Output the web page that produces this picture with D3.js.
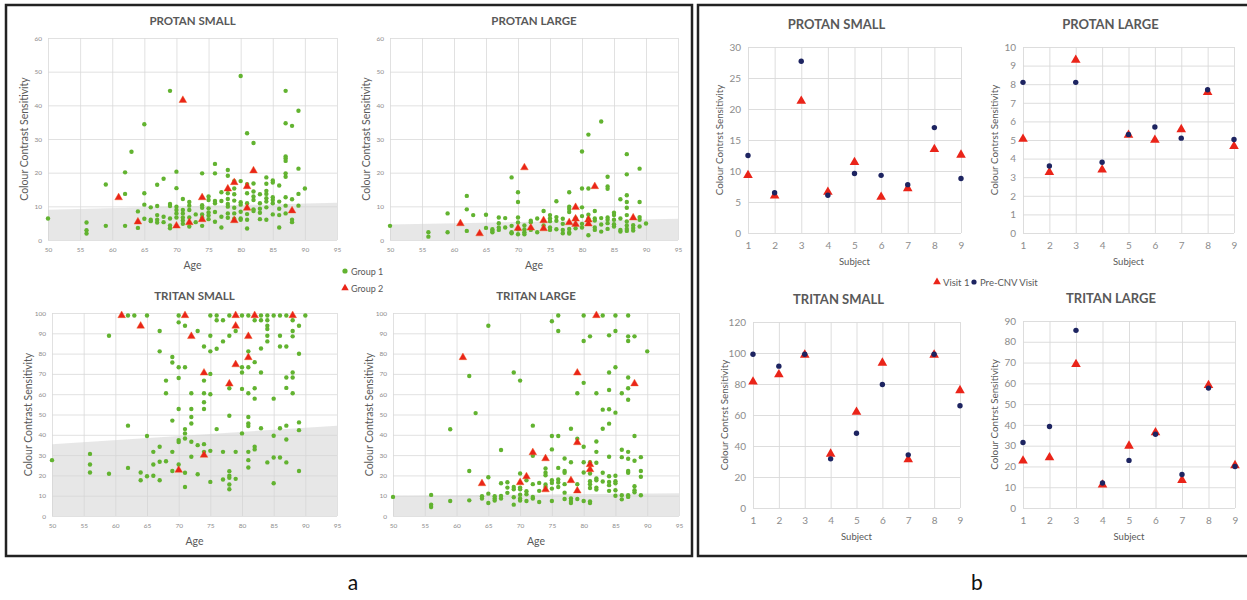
<!DOCTYPE html>
<html>
<head>
<meta charset="utf-8">
<script src="https://cdnjs.cloudflare.com/ajax/libs/d3/7.8.5/d3.min.js"></script>
<style>
body { margin:0; background:#fff; }
text { font-family: Lato, "Open Sans", sans-serif; }
</style>
</head>
<body>
<div class="container"></div>
<script>
////////////////////////////////////////////////////////////////
// DATA - PANEL A (age vs colour contrast sensitivity)
////////////////////////////////////////////////////////////////
var ageTicks = [50,55,60,65,70,75,80,85,90,95];
var protanTicks = [0,10,20,30,40,50,60];
var tritanTicks = [0,10,20,30,40,50,60,70,80,90,100];
var groupNames = ["Group 1","Group 2"];

// normal limit band [value at age 50, value at age 95]
var psBand = [9.0, 11.1];
var plBand = [4.6, 6.3];
var tsBand = [35.4, 44.5];
var tlBand = [10.0, 11.2];

var psG1 = [[50,6.4],[56,5.2],[56,2.9],[56,1.9],[59,16.5],[59,4.2],[62,20.1],[62,13.7],[62,4.2],[63,26.2],[64,8.5],[64,3.6],[65,34.4],[65,13.9],[65,10.5],[65,6.3],[66,9.7],[66,6.0],[66,5.6],[67,16.4],[67,10.1],[67,7.4],[67,6.0],[67,5.2],[68,18.2],[68,6.9],[68,5.3],[69,44.3],[69,10.7],[69,10.1],[69,6.4],[69,4.3],[69,3.5],[70,20.3],[70,15.4],[70,9.9],[70,8.9],[70,7.9],[70,6.7],[71,12.2],[71,8.9],[71,7.9],[71,6.7],[71,5.8],[71,4.8],[72,11.3],[72,10.2],[72,8.9],[72,6.7],[72,4.0],[73,7.6],[73,5.3],[74,19.8],[74,10.3],[74,9.6],[74,7.6],[74,6.6],[74,4.2],[75,12.9],[75,11.9],[75,9.4],[75,8.2],[75,7.3],[75,6.2],[76,22.6],[76,19.8],[76,11.6],[76,10.9],[76,8.3],[76,5.4],[77,14.2],[77,11.6],[77,6.9],[77,3.7],[78,20.8],[78,19.1],[78,13.9],[78,12.2],[78,10.7],[78,9.9],[78,7.9],[78,6.6],[79,17.5],[79,15.3],[79,13.6],[79,11.7],[79,9.6],[79,7.9],[79,6.3],[80,48.7],[80,17.5],[80,11.2],[80,10.5],[80,8.4],[80,6.4],[80,6.0],[81,31.7],[81,16.6],[81,13.9],[81,10.9],[81,7.7],[81,6.0],[81,3.4],[82,28.8],[82,16.8],[82,14.4],[82,12.9],[82,11.9],[82,9.1],[82,8.6],[83,13.6],[83,10.9],[83,9.3],[83,8.1],[83,6.2],[84,18.6],[84,16.7],[84,14.6],[84,13.7],[84,12.4],[84,11.4],[84,9.7],[84,6.0],[85,17.7],[85,17.1],[85,12.7],[85,11.9],[85,10.9],[85,7.6],[86,16.2],[86,11.4],[86,9.3],[86,7.4],[86,3.7],[87,44.3],[87,34.7],[87,24.8],[87,24.2],[87,23.5],[87,19.8],[87,18.8],[87,12.7],[87,10.2],[87,7.9],[88,33.9],[88,12.1],[88,6.0],[88,5.3],[89,38.4],[89,21.2],[89,13.7],[89,10.2],[90,15.3]];
var psG2 = [[61,12.6],[64,5.4],[70,4.2],[71,41.5],[72,5.2],[74,12.6],[74,6.1],[78,15.2],[79,17.1],[79,5.8],[81,15.9],[81,9.5],[82,20.6],[88,8.7]];

var plG1 = [[50,4.2],[56,2.3],[56,1.0],[59,7.9],[59,2.3],[62,13.1],[62,9.1],[62,2.7],[63,7.4],[65,7.5],[65,3.6],[66,3.2],[66,2.7],[66,2.3],[67,6.7],[67,5.0],[67,3.7],[67,3.0],[68,6.5],[68,3.7],[69,18.6],[69,4.2],[69,2.3],[69,2.0],[70,14.2],[70,11.3],[70,6.7],[70,5.2],[70,3.2],[70,1.7],[71,4.3],[71,3.1],[71,2.3],[71,1.7],[72,5.7],[72,5.3],[72,3.0],[73,6.4],[73,2.3],[74,8.6],[74,4.3],[75,7.4],[75,6.4],[75,5.6],[75,3.7],[75,3.0],[76,11.5],[76,6.8],[76,5.7],[76,3.2],[77,6.3],[77,4.8],[77,3.0],[77,2.0],[78,14.2],[78,9.9],[78,9.2],[78,8.3],[78,3.3],[78,2.3],[78,1.9],[79,6.4],[79,3.5],[80,26.3],[80,15.3],[80,9.7],[80,7.1],[80,4.8],[80,3.7],[81,31.3],[81,15.3],[81,7.5],[81,6.3],[81,1.4],[82,8.6],[82,6.4],[82,5.8],[82,3.7],[82,3.0],[83,35.2],[83,6.5],[83,4.6],[83,2.5],[84,18.8],[84,15.9],[84,15.2],[84,6.7],[84,6.0],[84,5.0],[84,3.3],[85,8.1],[85,7.4],[85,6.0],[85,4.7],[85,4.0],[86,12.1],[86,6.4],[86,3.0],[86,2.5],[87,25.5],[87,19.5],[87,13.3],[87,11.3],[87,9.6],[87,7.4],[87,5.5],[87,4.3],[87,3.3],[87,2.7],[88,4.4],[88,3.6],[88,2.8],[89,21.2],[89,11.3],[89,6.8],[89,6.0],[89,4.0],[90,4.9]];
var plG2 = [[61,4.9],[64,1.9],[70,3.5],[71,21.5],[72,3.6],[74,5.8],[74,3.4],[78,5.2],[79,9.7],[79,6.3],[79,4.7],[81,6.0],[81,4.8],[82,15.9],[88,6.6]];

var tsG1 = [[50,27.5],[56,30.6],[56,25.4],[56,21.4],[59,88.8],[59,20.8],[62,98.8],[62,44.5],[62,23.7],[63,98.8],[64,21.4],[64,17.6],[65,98.8],[65,39.4],[65,19.6],[66,31.6],[66,25.4],[66,19.8],[67,91.1],[67,81.1],[67,34.1],[67,26.7],[67,17.6],[68,66.7],[68,60.5],[68,27.0],[69,78.3],[69,75.6],[69,47.0],[69,31.6],[69,22.2],[70,98.8],[70,95.4],[70,73.3],[70,68.0],[70,52.7],[70,37.4],[70,36.4],[70,25.4],[71,93.7],[71,73.3],[71,42.8],[71,40.7],[71,38.2],[71,21.3],[71,14.3],[72,60.5],[72,52.7],[72,48.8],[72,45.6],[72,36.6],[72,29.2],[73,91.1],[73,34.9],[73,20.6],[74,83.5],[74,66.7],[74,60.5],[74,56.0],[74,52.7],[74,35.4],[74,31.6],[75,98.8],[75,88.8],[75,81.1],[75,70.0],[75,60.0],[75,32.1],[75,16.8],[76,98.8],[76,96.4],[76,82.4],[76,42.8],[77,96.4],[77,86.0],[77,31.6],[77,18.0],[78,98.8],[78,88.8],[78,62.9],[78,49.4],[78,22.1],[78,19.8],[78,18.8],[78,15.5],[78,13.2],[79,91.1],[79,31.6],[79,18.3],[80,98.8],[80,73.3],[80,70.7],[80,62.6],[80,40.7],[81,98.8],[81,81.1],[81,73.3],[81,60.5],[81,48.8],[81,45.6],[81,44.3],[81,31.6],[81,27.5],[81,23.9],[82,96.4],[82,75.8],[82,62.9],[82,57.8],[82,34.1],[82,32.8],[83,98.8],[83,96.4],[83,82.5],[83,70.7],[83,43.2],[84,98.8],[84,96.4],[84,93.7],[84,92.1],[84,88.8],[84,86.0],[84,26.4],[85,98.8],[85,57.8],[85,39.5],[85,28.8],[85,16.1],[86,98.8],[86,88.8],[86,83.5],[86,43.2],[86,28.8],[87,98.8],[87,83.5],[87,68.2],[87,63.1],[87,44.5],[87,37.7],[87,26.4],[88,96.4],[88,91.1],[88,88.5],[88,70.7],[88,68.2],[88,60.5],[89,93.7],[89,79.9],[89,46.1],[89,42.3],[89,22.2],[90,98.8]];
var tsG2 = [[61,98.8],[64,93.6],[70,22.6],[71,98.8],[72,88.5],[74,70.5],[74,30.0],[78,65.1],[79,98.8],[79,93.6],[79,74.6],[81,88.5],[81,78.1],[82,98.8],[88,98.8]];

var tlG1 = [[50,9.4],[56,10.4],[56,5.6],[56,4.4],[59,42.7],[59,7.4],[62,69.0],[62,22.2],[62,7.7],[63,50.7],[64,9.7],[64,8.6],[65,93.7],[65,19.1],[65,11.0],[65,6.4],[66,9.7],[66,8.6],[66,7.6],[67,32.5],[67,16.1],[67,9.9],[67,8.6],[68,16.6],[68,14.0],[68,11.4],[69,70.7],[69,14.3],[69,13.2],[69,9.2],[69,5.6],[70,66.7],[70,20.9],[70,14.0],[70,13.2],[70,10.5],[70,8.6],[70,7.6],[71,17.6],[71,12.2],[71,10.7],[71,7.4],[72,44.5],[72,29.7],[72,15.7],[72,9.4],[72,8.6],[73,16.3],[73,12.4],[73,6.9],[74,23.4],[74,21.3],[74,20.1],[74,15.5],[74,14.3],[75,95.9],[75,39.4],[75,32.8],[75,17.6],[75,16.3],[75,13.5],[75,7.4],[76,98.8],[76,91.1],[76,39.4],[76,23.7],[76,18.0],[76,16.5],[76,14.3],[77,28.3],[77,22.2],[77,21.3],[77,15.7],[77,11.5],[77,8.4],[78,43.0],[78,26.5],[78,8.6],[78,7.4],[78,6.4],[79,60.5],[79,38.1],[79,15.7],[79,8.4],[80,98.8],[80,86.2],[80,65.6],[80,34.1],[80,26.5],[80,21.4],[80,7.4],[81,88.5],[81,26.5],[81,20.9],[81,17.1],[81,15.7],[81,13.8],[81,7.2],[81,6.4],[82,60.5],[82,36.7],[82,31.6],[82,26.2],[82,18.5],[82,17.6],[82,14.0],[82,13.0],[83,98.8],[83,52.4],[83,43.0],[83,21.3],[83,17.0],[84,89.0],[84,70.7],[84,62.1],[84,52.6],[84,45.5],[84,29.2],[84,19.6],[84,16.8],[84,15.2],[84,12.4],[85,98.8],[85,91.1],[85,73.3],[85,50.9],[85,19.8],[85,17.1],[85,16.1],[85,12.7],[85,10.0],[86,60.5],[86,32.6],[86,29.0],[86,10.2],[86,8.2],[87,98.8],[87,88.5],[87,86.2],[87,68.2],[87,62.9],[87,57.3],[87,31.6],[87,28.2],[87,22.2],[87,21.3],[87,10.2],[87,9.4],[88,88.5],[88,39.4],[88,27.2],[88,14.7],[88,12.7],[88,11.7],[89,29.0],[89,22.2],[89,19.3],[89,10.2],[90,81.1]];
var tlG2 = [[61,78.1],[64,16.0],[70,16.5],[71,19.4],[72,31.3],[74,28.3],[74,13.0],[78,17.5],[79,70.5],[79,36.2],[79,12.4],[81,25.4],[81,22.9],[82,98.8],[88,65.2]];

////////////////////////////////////////////////////////////////
// DATA - PANEL B (per subject, two visits)
////////////////////////////////////////////////////////////////
var subjects = [1,2,3,4,5,6,7,8,9];
var visitNames = ["Visit 1","Pre-CNV Visit"];

var psVisit1 = [9.3,6.0,21.3,6.6,11.4,5.8,7.2,13.5,12.6];
var psPre    = [12.5,6.5,27.7,6.1,9.6,9.3,7.8,17.0,8.8];
var plVisit1 = [5.05,3.27,9.3,3.4,5.27,5.0,5.57,7.57,4.66];
var plPre    = [8.1,3.6,8.1,3.8,5.3,5.7,5.1,7.7,5.03];
var tsVisit1 = [81.4,86.1,98.8,34.9,61.9,93.6,31.3,98.8,75.9];
var tsPre    = [99.2,91.5,99.2,31.7,48.2,79.7,34.3,99.2,66.0];
var tlVisit1 = [22.7,24.3,69.2,11.2,29.9,36.3,13.4,59.1,20.5];
var tlPre    = [31.5,39.2,85.5,12.0,22.9,35.5,16.1,57.7,20.0];

var psTicksB = [0,5,10,15,20,25,30];
var plTicksB = [0,1,2,3,4,5,6,7,8,9,10];
var tsTicksB = [0,20,40,60,80,100,120];
var tlTicksB = [0,10,20,30,40,50,60,70,80,90];

////////////////////////////////////////////////////////////////
// COLOURS
////////////////////////////////////////////////////////////////
var green = "#62b330";
var red = "#ea2419";
var navy = "#1d2461";
var gridcol = "#d9d9d9";
var titlecol = "#595959";
var tickcol = "#8c8c8c";

////////////////////////////////////////////////////////////////
// CREATE STAGE
////////////////////////////////////////////////////////////////
function makeStage(w,h) {
	var svg = d3.select(".container")
	   .append("svg")
	   .attr("width", w)
	   .attr("height", h);
	return svg;
}

function tri(size) {
	return d3.symbol().type(d3.symbolTriangle).size(size)();
}

////////////////////////////////////////////////////////////////
// PANEL A PLOT
////////////////////////////////////////////////////////////////
function drawAgePlot(svg, box, title, g1, g2, band, yTicks) {
	var yMax = yTicks[yTicks.length-1];
	var x = d3.scaleLinear().domain([50,95]).range([box.x0, box.x1]);
	var y = d3.scaleLinear().domain([0,yMax]).range([box.y1, box.y0]);
	var g = svg.append("g");

	// gridlines
	g.append("g").attr("transform","translate(0,"+box.y1+")")
	 .call(d3.axisBottom(x).tickValues(ageTicks).tickSize(-(box.y1-box.y0)).tickFormat(""))
	 .call(function(a){ a.select(".domain").remove(); a.selectAll("line").attr("stroke",gridcol).attr("stroke-width",0.8); });
	g.append("g").attr("transform","translate("+box.x0+",0)")
	 .call(d3.axisLeft(y).tickValues(yTicks).tickSize(-(box.x1-box.x0)).tickFormat(""))
	 .call(function(a){ a.select(".domain").remove(); a.selectAll("line").attr("stroke",gridcol).attr("stroke-width",0.8); });

	// shaded normal band
	g.append("path")
	 .datum([[50,band[0]],[95,band[1]]])
	 .attr("d", d3.area().x(function(d){return x(d[0]);}).y0(y(0)).y1(function(d){return y(d[1]);}))
	 .attr("fill","#d4d4d4")
	 .attr("opacity",0.55);

	// tick labels
	g.append("g").attr("transform","translate(0,"+(box.y1+5)+")")
	 .call(d3.axisBottom(x).tickValues(ageTicks).tickSize(0).tickPadding(2))
	 .call(function(a){ a.select(".domain").remove();
	    a.selectAll("text").attr("font-size",6.5).attr("fill",tickcol); });
	g.append("g").attr("transform","translate("+(box.x0-5)+",0)")
	 .call(d3.axisLeft(y).tickValues(yTicks).tickSize(0).tickPadding(1))
	 .call(function(a){ a.select(".domain").remove();
	    a.selectAll("text").attr("font-size",6.5).attr("fill",tickcol); });

	// points
	g.selectAll(".g1").data(g1).enter().append("circle")
	 .attr("cx", function(d){return x(d[0]);})
	 .attr("cy", function(d){return y(d[1]);})
	 .attr("r", 2.2)
	 .attr("fill", green);
	g.selectAll(".g2").data(g2).enter().append("path")
	 .attr("d", tri(26))
	 .attr("transform", function(d){return "translate("+x(d[0])+","+y(d[1])+")";})
	 .attr("fill", red)
	 .attr("stroke","#f05a22")
	 .attr("stroke-width",0.4);

	// titles
	var cx = (box.x0+box.x1)/2;
	g.append("text").attr("x",cx).attr("y",box.y0-13)
	 .attr("text-anchor","middle").attr("font-size",11.5).attr("font-weight","bold")
	 .attr("fill",titlecol).text(title);
	g.append("text").attr("x",cx).attr("y",box.y1+29)
	 .attr("text-anchor","middle").attr("font-size",10.5)
	 .attr("fill",titlecol).text("Age");
	g.append("text")
	 .attr("transform","translate("+(box.x0-20)+","+((box.y0+box.y1)/2)+") rotate(-90)")
	 .attr("text-anchor","middle").attr("font-size",10.5)
	 .attr("fill",titlecol).text("Colour Contrast Sensitivity");
}

////////////////////////////////////////////////////////////////
// PANEL B PLOT
////////////////////////////////////////////////////////////////
function drawSubjectPlot(svg, box, title, v1, pre, yTicks) {
	var yMax = yTicks[yTicks.length-1];
	var x = d3.scaleLinear().domain([1,9]).range([box.x0, box.x1]);
	var y = d3.scaleLinear().domain([0,yMax]).range([box.y1, box.y0]);
	var g = svg.append("g");

	g.append("g").attr("transform","translate(0,"+box.y1+")")
	 .call(d3.axisBottom(x).tickValues(subjects).tickSize(-(box.y1-box.y0)).tickFormat(""))
	 .call(function(a){ a.select(".domain").remove(); a.selectAll("line").attr("stroke",gridcol).attr("stroke-width",0.9); });
	g.append("g").attr("transform","translate("+box.x0+",0)")
	 .call(d3.axisLeft(y).tickValues(yTicks).tickSize(-(box.x1-box.x0)).tickFormat(""))
	 .call(function(a){ a.select(".domain").remove(); a.selectAll("line").attr("stroke",gridcol).attr("stroke-width",0.9); });

	g.append("g").attr("transform","translate(0,"+(box.y1+7)+")")
	 .call(d3.axisBottom(x).tickValues(subjects).tickSize(0).tickPadding(2))
	 .call(function(a){ a.select(".domain").remove();
	    a.selectAll("text").attr("font-size",10).attr("fill",tickcol); });
	g.append("g").attr("transform","translate("+(box.x0-6)+",0)")
	 .call(d3.axisLeft(y).tickValues(yTicks).tickSize(0).tickPadding(1))
	 .call(function(a){ a.select(".domain").remove();
	    a.selectAll("text").attr("font-size",10).attr("fill",tickcol); });

	g.selectAll(".v1").data(v1).enter().append("path")
	 .attr("d", tri(40))
	 .attr("transform", function(d,i){return "translate("+x(subjects[i])+","+y(d)+")";})
	 .attr("fill", red);
	g.selectAll(".pre").data(pre).enter().append("circle")
	 .attr("cx", function(d,i){return x(subjects[i]);})
	 .attr("cy", function(d){return y(d);})
	 .attr("r", 2.7)
	 .attr("fill", navy);

	var cx = (box.x0+box.x1)/2;
	g.append("text").attr("x",cx-18).attr("y",box.y0-18)
	 .attr("text-anchor","middle").attr("font-size",13).attr("font-weight","bold")
	 .attr("fill",titlecol).text(title);
	g.append("text").attr("x",cx).attr("y",box.y1+32)
	 .attr("text-anchor","middle").attr("font-size",9.5)
	 .attr("fill",titlecol).text("Subject");
	g.append("text")
	 .attr("transform","translate("+(box.x0-25)+","+((box.y0+box.y1)/2)+") rotate(-90)")
	 .attr("text-anchor","middle").attr("font-size",9.8)
	 .attr("fill",titlecol).text("Colour Contrst Sensitivity");
}

////////////////////////////////////////////////////////////////
// BUILD FIGURE
////////////////////////////////////////////////////////////////
var svg = makeStage(1247,600);

// frames
svg.append("rect").attr("x",6).attr("y",5).attr("width",686).attr("height",551)
   .attr("fill","none").attr("stroke","#222").attr("stroke-width",2.5);
svg.append("rect").attr("x",698).attr("y",5).attr("width",560).attr("height",551)
   .attr("fill","none").attr("stroke","#222").attr("stroke-width",2.5);

drawAgePlot(svg, {x0:48, x1:337, y0:38, y1:240}, "PROTAN SMALL", psG1, psG2, psBand, protanTicks);
drawAgePlot(svg, {x0:390, x1:678, y0:38, y1:240}, "PROTAN LARGE", plG1, plG2, plBand, protanTicks);
drawAgePlot(svg, {x0:52, x1:337, y0:313, y1:516}, "TRITAN SMALL", tsG1, tsG2, tsBand, tritanTicks);
drawAgePlot(svg, {x0:393, x1:679, y0:313, y1:516}, "TRITAN LARGE", tlG1, tlG2, tlBand, tritanTicks);

drawSubjectPlot(svg, {x0:748, x1:961, y0:47, y1:233}, "PROTAN SMALL", psVisit1, psPre, psTicksB);
drawSubjectPlot(svg, {x0:1023, x1:1234, y0:47, y1:233}, "PROTAN LARGE", plVisit1, plPre, plTicksB);
drawSubjectPlot(svg, {x0:753, x1:960, y0:322, y1:508}, "TRITAN SMALL", tsVisit1, tsPre, tsTicksB);
drawSubjectPlot(svg, {x0:1023, x1:1235, y0:321, y1:508}, "TRITAN LARGE", tlVisit1, tlPre, tlTicksB);

// legends
var legA = svg.append("g");
legA.append("circle").attr("cx",345).attr("cy",271).attr("r",2.6).attr("fill",green);
legA.append("text").attr("x",351).attr("y",274.5).attr("font-size",9).attr("fill",titlecol).text(groupNames[0]);
legA.append("path").attr("d",tri(24)).attr("transform","translate(345,288)").attr("fill",red);
legA.append("text").attr("x",351).attr("y",291.5).attr("font-size",9).attr("fill",titlecol).text(groupNames[1]);

var legB = svg.append("g");
legB.append("path").attr("d",tri(26)).attr("transform","translate(937,282)").attr("fill",red);
legB.append("text").attr("x",943).attr("y",285.5).attr("font-size",9.5).attr("fill",titlecol).text(visitNames[0]);
legB.append("circle").attr("cx",974).attr("cy",282).attr("r",2.6).attr("fill",navy);
legB.append("text").attr("x",980).attr("y",285.5).attr("font-size",9.5).attr("fill",titlecol).text(visitNames[1]);

// panel letters
svg.append("text").attr("x",353).attr("y",590).attr("text-anchor","middle").attr("font-size",21).attr("fill","#111").text("a");
svg.append("text").attr("x",977).attr("y",590).attr("text-anchor","middle").attr("font-size",21).attr("fill","#111").text("b");
</script>
</body>
</html>
